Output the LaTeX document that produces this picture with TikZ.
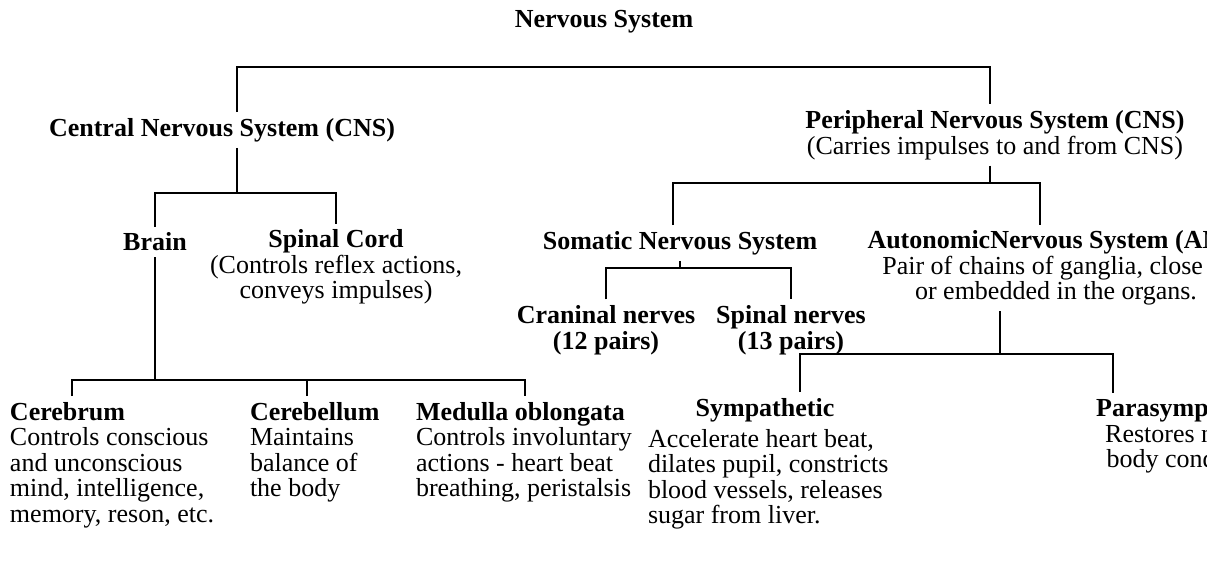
\documentclass[tikz,border=0pt]{standalone}
\usepackage{fontspec}
\setmainfont{Liberation Serif}

\begin{document}
\begin{tikzpicture}[x=0.5pt, y=-0.5pt,
        base/.style={inner sep=0pt, outer sep=3pt, font=\fontsize{13}{12.8}\selectfont},
        head/.style={base, font=\fontsize{13}{12.8}\selectfont\bfseries},
        note/.style={base, align=center},
        leaf/.style={base, align=left, anchor=north west},
        link/.style={-, line width=1.4pt}
    ]
        \clip (0,0) rectangle (1207,583);

        % Top level
        \node[head] (ns) at (604,22) {Nervous System};
        \node[head] (cns) at (222,130) {Central Nervous System (CNS)};
        \node[note] (pns) at (995,135) {\textbf{Peripheral Nervous System (CNS)}\\(Carries impulses to and from CNS)};

        % CNS branch
        \node[head] (brain) at (155,242) {Brain};
        \node[note] (spinal) at (336,267) {\textbf{Spinal Cord}\\(Controls reflex actions,\\conveys impulses)};
        \node[leaf] (cerebrum) at (4,396) {\textbf{Cerebrum}\\Controls conscious\\and unconscious\\mind, intelligence,\\memory, reson, etc.};
        \node[leaf] (cerebellum) at (244,396) {\textbf{Cerebellum}\\Maintains\\balance of\\the body};
        \node[leaf] (medulla) at (410,396) {\textbf{Medulla oblongata}\\Controls involuntary\\actions - heart beat\\breathing, peristalsis};

        % PNS branch
        \node[head] (somatic) at (680,243) {Somatic Nervous System};
        \node[note] (ans) at (1056,268) {\textbf{AutonomicNervous System (ANS)}\\Pair of chains of ganglia, close to\\or embedded in the organs.};
        \node[head, align=center] (cran) at (606,330) {Craninal nerves\\(12 pairs)};
        \node[head, align=center] (spn) at (791,330) {Spinal nerves\\(13 pairs)};
        \node[head] (symp) at (765,410) {Sympathetic};
        \node[leaf] (sympText) at (642,423) {Accelerate heart beat,\\dilates pupil, constricts\\blood vessels, releases\\sugar from liver.};
        \node[note] (para) at (1190,436) {\textbf{Parasympathetic}\\Restores normal\\body conditions};

        % Bars
        \coordinate (rootBar) at (604,67);
        \coordinate (cnsBar) at (237,193);
        \coordinate (brainBar) at (155,380);
        \coordinate (pnsBar) at (990,183);
        \coordinate (somBar) at (680,268);
        \coordinate (ansBar) at (1000,354);

        \draw[link] ([xshift=7.5pt]cns.north) |- (rootBar) -| ([xshift=-2.5pt]pns.north);
        \draw[link] ([xshift=7.5pt]cns.south) |- (cnsBar);
        \draw[link] (brain.north) |- (cnsBar) -| (spinal.north);
        \draw[link] (brain.south) |- (brainBar);
        \draw[link] ([xshift=34pt]cerebrum.north west) |- (brainBar) -| ([xshift=57.5pt]medulla.north west);
        \draw[link] ([xshift=31.5pt]cerebellum.north west) |- (brainBar);
        \draw[link] ([xshift=-2.5pt]pns.south) |- (pnsBar);
        \draw[link] ([xshift=-3.5pt]somatic.north) |- (pnsBar) -| ([xshift=-8pt]ans.north);
        \draw[link] (somatic.south) |- (somBar);
        \draw[link] (cran.north) |- (somBar) -| (spn.north);
        \draw[link] ([xshift=-28pt]ans.south) |- (ansBar);
        \draw[link] ([xshift=17.5pt]symp.north) |- (ansBar) -| ([xshift=-38.5pt]para.north);
    \end{tikzpicture}
\end{document}
